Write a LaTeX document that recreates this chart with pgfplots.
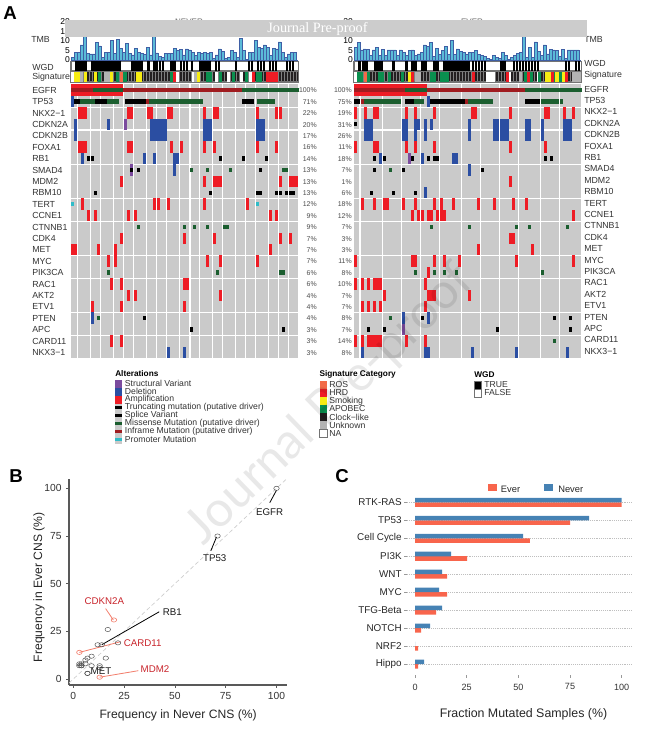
\documentclass[border=0pt]{standalone}
\usepackage{fontspec}
\setmainfont{Liberation Sans}
\newfontfamily\serifwm{Liberation Serif}
\newfontfamily\wmfont{Lato}
\usepackage{pgfplots}
\pgfplotsset{compat=1.18}

\definecolor{bggray}{HTML}{CACACA}
\definecolor{amp}{HTML}{EE1C25}
\definecolor{del}{HTML}{2B4EA2}
\definecolor{sv}{HTML}{7B4B9E}
\definecolor{mis}{HTML}{1B5E2F}
\definecolor{infr}{HTML}{A01C20}
\definecolor{prom}{HTML}{30BCC8}
\definecolor{ros}{HTML}{F26A47}
\definecolor{smok}{HTML}{F7EC13}
\definecolor{apo}{HTML}{0A8F4F}
\definecolor{clk}{HTML}{231F20}
\definecolor{unk}{HTML}{B3B3B3}
\definecolor{tmbfill}{HTML}{5BBBD8}
\definecolor{tmbline}{HTML}{3F5FA5}
\definecolor{hlred}{HTML}{C8232A}
\definecolor{hlline}{HTML}{F27C6A}
\definecolor{cblue}{HTML}{4682B4}
\definecolor{cred}{HTML}{F8654C}

% all sizes below in reference pixels, 1px = 0.75pt
\pgfdeclareplotmark{cellfull}{\pgfpathrectangle{\pgfpoint{0pt}{-4.3pt}}{\pgfpoint{2.28pt}{8.6pt}}\pgfusepathqfill}
\pgfdeclareplotmark{cellmid}{\pgfpathrectangle{\pgfpoint{0pt}{-1.55pt}}{\pgfpoint{2.28pt}{3.1pt}}\pgfusepathqfill}
\pgfdeclareplotmark{cellstrip}{\pgfpathrectangle{\pgfpoint{0pt}{-3.85pt}}{\pgfpoint{2.28pt}{7.7pt}}\pgfusepathqfill}
\pgfdeclareplotmark{cellthin}{\pgfpathrectangle{\pgfpoint{0.2pt}{-3.52pt}}{\pgfpoint{1.7pt}{7.05pt}}\pgfusepathqfill}

\newcommand{\fs}[1]{\fontsize{#1}{#1}\selectfont}

\pgfplotsset{
  onco/.style={scale only axis, width=170.5pt, height=205.2pt,
    xmin=0, xmax=75.8, ymin=-0.5, ymax=23.5, y dir=reverse,
    axis background/.style={fill=bggray},
    axis line style={draw=none}, tick style={draw=none},
    xticklabels={}, yticklabels={},
    ytick={1.5,3.5,6.5,9.5,11.5,14.5,16.5,19.5,21.5},
    xmajorgrids, ymajorgrids, grid style={white, line width=0.8pt},
    axis on top},
  full/.style={only marks, mark=cellfull, color=#1},
  mid/.style={only marks, mark=cellmid, color=#1},
  strip/.style={only marks, mark=cellstrip, color=#1},
  thinstrip/.style={only marks, mark=cellthin, color=#1},
  stripaxis/.style={scale only axis, width=170.5pt,
    xmin=0, xmax=75.8, ymin=-1, ymax=1,
    ytick=\empty, xticklabels={}, tick style={draw=none},
    axis line style={draw=black!55, line width=0.8pt}, axis on top},
  tmb/.style={scale only axis, width=170.5pt, height=28.5pt,
    xmin=0, xmax=75.8, ymin=0, ymax=20,
    ybar, bar width=2.15pt, bar shift=0pt,
    xtick=\empty, ytick={0,5,10,15,20},
    axis y line*=left, axis x line*=bottom,
    y axis line style={draw=none}, x axis line style={draw=tmbline, line width=0.6pt, -},
    tick style={draw=none},
    yticklabel style={font=\fs{6.4}, xshift=2.6pt, /pgf/number format/assume math mode=true}},
}

\begin{document}
\begin{tikzpicture}
\path[use as bounding box] (0,0) rectangle (483.75pt,-551.25pt);

% ---- TMB left
\begin{axis}[tmb, at={(53.25pt,-45pt)}, anchor=south west]
\addplot[fill=tmbfill, draw=tmbline, line width=0.3pt] table {
0.5 1.4
1.5 4
2.5 4.2
3.5 8
4.5 14
5.5 3.5
6.5 3.2
7.5 3.2
8.5 9.3
9.5 7.4
10.5 1.5
11.5 4
12.5 4
13.5 10.5
14.5 3.5
15.5 11
16.5 6
17.5 4
18.5 8.8
19.5 3.5
20.5 2.7
21.5 6
22.5 4
23.5 3.5
24.5 3
25.5 6.7
26.5 2.7
27.5 14
28.5 3.8
29.5 1.8
30.5 1.4
31.5 3.5
32.5 3.5
33.5 3.5
34.5 6
35.5 5
36.5 5.5
37.5 2.7
38.5 5.8
39.5 5.3
40.5 4
41.5 2.6
42.5 4
43.5 3.5
44.5 4
45.5 3.5
46.5 4
47.5 1
48.5 2.7
49.5 5.8
50.5 4.4
51.5 0.8
52.5 1.5
53.5 5
54.5 4
55.5 1.4
56.5 11.4
57.5 5
58.5 0.3
59.5 4
60.5 4
61.5 10.5
62.5 6.7
63.5 6
64.5 8
65.5 6.5
66.5 2.6
67.5 6
68.5 5.8
69.5 9.6
70.5 4
71.5 1.5
72.5 3.2
73.5 4
74.5 4
};
\end{axis}

% ---- TMB right
\begin{axis}[tmb, at={(265.5pt,-45pt)}, anchor=south west]
\addplot[fill=tmbfill, draw=tmbline, line width=0.3pt] table {
0.5 6.5
1.5 9.3
2.5 5.3
3.5 5.8
4.5 5.6
5.5 2.6
6.5 5.3
7.5 6.7
8.5 2.6
9.5 5.6
10.5 2.6
11.5 5.3
12.5 5.3
13.5 5.3
14.5 2.6
15.5 5.3
16.5 4
17.5 2.6
18.5 4.9
19.5 5.3
20.5 2.6
21.5 3.2
22.5 4
23.5 7.9
24.5 7
25.5 9.3
26.5 1.8
27.5 6.1
28.5 3
29.5 4.9
30.5 7
31.5 3
32.5 10.5
33.5 3
34.5 5.8
35.5 4.4
36.5 4
37.5 3
38.5 4
39.5 4
40.5 4.9
41.5 3
42.5 2.6
43.5 2.1
44.5 0.9
45.5 0.4
46.5 2.6
47.5 1.4
48.5 0.9
49.5 4
50.5 2.6
51.5 0.4
52.5 1.4
53.5 2.6
54.5 3.5
55.5 4
56.5 14
57.5 1.4
58.5 6.7
59.5 1.4
60.5 9.6
61.5 4.4
62.5 2.6
63.5 7.9
64.5 3.2
65.5 5.6
66.5 5.3
67.5 4.9
68.5 1.8
69.5 5.6
70.5 0.9
71.5 5.3
72.5 5.3
73.5 5.3
74.5 5.3
};
\end{axis}

% ---- WGD strips
\begin{axis}[stripaxis, height=7.05pt, at={(53.25pt,-53.025pt)}, anchor=south west]
\addplot[thinstrip=black] coordinates {
(1.33,0)(2.33,0)(3.33,0)(4.33,0)(6.67,0)(7.67,0)(8.67,0)(9.67,0)(10.67,0)(11.67,0)(12.67,0)(13.67,0)(14.67,0)(15.67,0)
(20,0)(21,0)(22,0)(23,0)(25.33,0)(27.33,0)(28.33,0)(29.33,0)(30.33,0)(33,0)(34,0)(36.33,0)(37.33,0)(38.33,0)(40,0)
(42.67,0)(43.67,0)(44.67,0)(45.67,0)(48,0)(49,0)(54.67,0)(59,0)(60,0)(62,0)(63,0)(64,0)(66,0)(67,0)(68,0)(71.67,0)(72.67,0)(73.67,0)};
\end{axis}
\begin{axis}[stripaxis, height=7.05pt, at={(265.5pt,-53.025pt)}, anchor=south west]
\addplot[thinstrip=black] coordinates {
(1.33,0)(2.67,0)(3.67,0)(6.67,0)(7.67,0)(8.67,0)(12.67,0)(17,0)(19,0)(20,0)(22.33,0)(23.33,0)(26.33,0)(27.33,0)
(29.67,0)(30.67,0)(31.67,0)(32.67,0)(33.67,0)(34.67,0)(35.67,0)(36.67,0)(37.67,0)(39.33,0)(40.33,0)(41.33,0)(42.33,0)(43.33,0)
(48.67,0)(49.67,0)(53,0)(54,0)(55,0)(56,0)(57,0)(58,0)(59,0)(60,0)(61,0)(70.33,0)(71.33,0)(73.67,0)(74.67,0)};
\end{axis}

% ---- signature strips
\begin{axis}[stripaxis, height=7.7pt, at={(53.25pt,-61.5pt)}, anchor=south west,
  axis background/.style={fill=clk}, xtick distance=1, xmajorgrids,
  grid style={black!50, line width=0.2pt}]
\addplot[strip=white] coordinates {(0,0)(35,0)(40.5,0)(48,0)(52,0)(56.33,0)(59.33,0)};
\addplot[strip=unk] coordinates {(3,0)(11,0)(12,0)(41,0)};
\addplot[strip=smok] coordinates {(1,0)(2,0)(4.33,0)(7.67,0)(13,0)(21.67,0)(22.67,0)(41.89,0)};
\addplot[strip=apo] coordinates {(9,0)(15,0)(17.5,0)(33,0)(45,0)(46,0)(49.5,0)(53.67,0)(58,0)(61.67,0)(62.67,0)};
\addplot[strip=ros] coordinates {(16.33,0)};
\addplot[strip=amp] coordinates {(34,0)(60.5,0)(65,0)(66,0)(67,0)(68,0)};
\end{axis}
\begin{axis}[stripaxis, height=7.7pt, at={(265.5pt,-61.5pt)}, anchor=south west,
  axis background/.style={fill=clk}, xtick distance=1, xmajorgrids,
  grid style={black!50, line width=0.2pt}]
\addplot[strip=white] coordinates {(0,0)(44,0)(45,0)(46,0)(51.5,0)(60.9,0)};
\addplot[strip=unk] coordinates {(20.33,0)(21.33,0)(55,0)(72.67,0)(73.67,0)(74.67,0)};
\addplot[strip=smok] coordinates {(18,0)(63.67,0)(64.67,0)(66.78,0)(67.78,0)(69.33,0)};
\addplot[strip=apo] coordinates {(1,0)(2,0)(4.33,0)(8,0)(9,0)(11.33,0)(15.67,0)(25.33,0)(26.33,0)(28.67,0)(29.67,0)(30.67,0)(56.67,0)(58.67,0)(61.44,0)(66.1,0)(68.5,0)};
\addplot[strip=ros] coordinates {(3.33,0)};
\addplot[strip=amp] coordinates {(19,0)(39.33,0)(50.67,0)(57.67,0)(65.67,0)(70.33,0)};
\end{axis}

% ---- oncoplot left (Never)
\begin{axis}[onco, at={(53.25pt,-268.5pt)}, anchor=south west,
  xtick={2.11,6.56,9.89,14.11,17.44,20.78,25.22,28.44,31.89,36.33,39.67,43,47.22,50.56,55,58.33,61.56,65.89,69.22,72.56}]
\addplot[full=amp] coordinates {
(0,0)(1,0)(2,0)(3,0)(4,0)(5,0)(6,0)(7,0)(8,0)(9,0)(10,0)(11,0)(12,0)(13,0)(14,0)(15,0)(16,0)(16.44,0)
(2.33,2)(3.33,2)(4.33,2)(18.67,2)(19.67,2)(25.33,2)(26.33,2)(32,2)(33,2)(44,2)(47.33,2)(48.33,2)(61.67,2)(68,2)(69.33,2)
(2.33,5)(3.33,5)(4.33,5)(18.67,5)(19.67,5)(33,5)(36.33,5)(44,5)(47.33,5)(61.67,5)(68,5)
(16.33,8)(44,8)(47.33,8)(48.33,8)(49.33,8)(69.33,8)(72.67,8)(73.67,8)(74.67,8)
(3.33,10)(27.33,10)(28.67,10)(32,10)(44,10)(58.33,10)
(5.33,11)(7.67,11)(18.67,11)(21,11)(66,11)(68,11)
(16.33,13)(37.33,13)(47.33,13)(69.33,13)(72.67,13)
(0,14)(1,14)(8.67,14)(14.33,14)(66,14)
(12,15)(14.33,15)(45,15)(49.33,15)(61.67,15)
(13,17)(16.33,17)(37.33,17)(38.33,17)
(18.67,18)(21,18)(49.33,18)
(6.67,19)(16.33,19)(37.33,19)
(13,22)(16.33,22)};
\addplot[full=del] coordinates {
(0,1)
(1,3)(12,3)(26.33,3)(27.33,3)(28.33,3)(29.33,3)(30.33,3)(31,3)(44,3)(45,3)(46,3)(61.67,3)(62.67,3)(63.67,3)
(1,4)(26.33,4)(27.33,4)(28.33,4)(29.33,4)(30.33,4)(31,4)(44,4)(45,4)(46,4)(61.67,4)(62.67,4)(63.67,4)
(3.33,6)(24,6)(27.33,6)(34,6)(35,6)
(34,7)
(6.67,20)
(32,23)(37.33,23)};
\addplot[full=sv] coordinates {(17.67,3)(19.67,7)};
\addplot[mid=black] coordinates {
(1,1)(2,1)(8,1)(9,1)(10,1)(11,1)(18,1)(19,1)(20,1)(21,1)(22,1)(23,1)(24,1)(57,1)(58,1)(59,1)(60,1)
(5.33,6)(6.67,6)(49.33,6)(57,6)(64.67,6)
(19.67,7)(22,7)(62.67,7)
(7.67,9)(46,9)(61.67,9)(62.67,9)(68,9)(69.33,9)(71.33,9)(72.67,9)(73.67,9)
(24,20)
(39.67,21)(70.33,21)};
\addplot[mid=mis] coordinates {
(7.44,0)(8.44,0)(9.44,0)(10.44,0)(11.44,0)(12.44,0)(13.44,0)(14.44,0)(15.44,0)(16.44,0)
(56.9,0)(57.9,0)(58.9,0)(59.9,0)(60.9,0)(61.9,0)(62.9,0)(63.9,0)(64.9,0)(65.9,0)(66.9,0)(67.9,0)(68.9,0)(69.9,0)(70.9,0)(71.9,0)(72.9,0)(73.9,0)(74.9,0)
(3,1)(4,1)(5,1)(6,1)(7,1)(12,1)(13,1)(14,1)(15,1)
(26,1)(27,1)(28,1)(29,1)(30,1)(31,1)(32,1)(33,1)(34,1)(35,1)(36,1)(37,1)(38,1)(39,1)(40,1)(41,1)(42,1)(43,1)
(62,1)(63,1)(64,1)(65,1)(66,1)(67,1)
(39.67,7)(45,7)(52.67,7)(70.33,7)(71.33,7)
(22,12)(37.33,12)(40.67,12)(45,12)(50.67,12)(51.67,12)
(12,16)(48.33,16)(69.33,16)(70.33,16)
(8.67,20)};
\addplot[mid=infr] coordinates {
(0,0)(1,0)(2,0)(3,0)(4,0)(5,0)(6,0)(6.44,0)
(17.44,0)(18.44,0)(19.44,0)(20.44,0)(21.44,0)(22.44,0)(23.44,0)(24.44,0)(25.44,0)(26.44,0)(27.44,0)(28.44,0)(29.44,0)
(30.44,0)(31.44,0)(32.44,0)(33.44,0)(34.44,0)(35.44,0)(36.44,0)(37.44,0)(38.44,0)(39.44,0)(40.44,0)(41.44,0)(42.44,0)
(43.44,0)(44.44,0)(45.44,0)(46.44,0)(47.44,0)(48.44,0)(49.44,0)(50.44,0)(51.44,0)(52.44,0)(53.44,0)(54.44,0)(55.44,0)(55.9,0)
(25,1)};
\addplot[mid=prom] coordinates {(0,10)(61.67,10)};
\end{axis}

% ---- oncoplot right (Ever)
\begin{axis}[onco, at={(265.5pt,-268.5pt)}, anchor=south west,
  xtick={2,9.44,15.78,22.11,28.44,35.78,42.11,48.44,54.78,62.11,68.44}]
\addplot[full=amp] coordinates {
(0,0)(1,0)(2,0)(3,0)(4,0)(5,0)(6,0)(7,0)(8,0)(9,0)(10,0)(11,0)(12,0)(13,0)(14,0)(15,0)(16,0)(17,0)(18,0)(19,0)(20,0)(21,0)(22,0)(23,0)(23.33,0)
(0,2)(3.33,2)(6.33,2)(7.33,2)(17,2)(20,2)(26.33,2)(39,2)(40,2)(51.67,2)(63.33,2)(64.33,2)(69.67,2)(72.67,2)
(0,5)(6.33,5)(7.33,5)(17,5)(20,5)(26.33,5)(51.67,5)(63.33,5)
(51.67,8)
(2.33,10)(6.33,10)(9.67,10)(10.67,10)(16,10)(20,10)(26.33,10)(28.67,10)(32.67,10)(41,10)(46.33,10)(52.67,10)(57,10)
(19,11)(21,11)(22.33,11)(24.33,11)(25.33,11)(27.33,11)(28.67,11)(29.67,11)(72.67,11)
(51.67,13)(52.67,13)
(41,14)(59,14)
(0,15)(19,15)(20,15)(26.33,15)(29.67,15)(34.67,15)(53.67,15)(72.67,15)
(24.33,16)
(0,17)(2.33,17)(4.33,17)(6.33,17)(7.33,17)(8.33,17)(23.33,17)
(9.67,18)(24.33,18)(25.33,18)(26.33,18)(38,18)
(2.33,19)(4.33,19)(6.33,19)(8.33,19)(23.33,19)
(0,22)(2.33,22)(4.33,22)(5.33,22)(6.33,22)(7.33,22)(8.33,22)(17,22)(23.33,22)};
\addplot[full=del] coordinates {
(24.33,1)
(3.33,3)(4.33,3)(5.33,3)(16,3)(17,3)(20,3)(21,3)(23.33,3)(25.33,3)(38,3)(46.33,3)(47.33,3)(48.67,3)(49.67,3)(50.67,3)(57,3)(58,3)(62.33,3)(69.67,3)(70.67,3)(71.67,3)
(3.33,4)(4.33,4)(5.33,4)(16,4)(17,4)(20,4)(23.33,4)(38,4)(46.33,4)(47.33,4)(48.67,4)(49.67,4)(50.67,4)(57,4)(58,4)(62.33,4)(69.67,4)(70.67,4)(71.67,4)
(8.33,6)(22.33,6)(32.67,6)(33.67,6)
(38,7)
(23.33,9)
(16,20)(24.33,20)
(2.33,23)(23.33,23)(24.33,23)(39,23)(53.67,23)(70.67,23)};
\addplot[full=sv] coordinates {(18,6)(16,21)};
\addplot[mid=black] coordinates {
(0,1)(1,1)(17,1)(18,1)(19,1)(25.33,1)(26.33,1)(27.33,1)(28.33,1)(29.33,1)(30.33,1)(31.33,1)(32.33,1)(33.33,1)(34.33,1)(35,1)(36,1)
(57,1)(58,1)(59,1)(60,1)(61,1)
(0,3)
(6.33,6)(9.67,6)(19,6)(24.33,6)(26.33,6)(27.33,6)(63.33,6)(65.33,6)
(6.33,7)(16,7)(42.33,7)
(5.33,9)(12.67,9)(20,9)
(22.33,20)(66.33,20)(71.67,20)
(4.33,21)(9.67,21)(47.33,21)(71.67,21)};
\addplot[mid=mis] coordinates {
(17,0)(18,0)(19,0)(20,0)(21,0)(22,0)(23,0)(23.33,0)
(57,0)(58,0)(59,0)(60,0)(61,0)(62,0)(63,0)(64,0)(65,0)(66,0)(67,0)(68,0)(69,0)(70,0)(71,0)(72,0)(73,0)(74,0)(74.9,0)
(3.33,1)(4.33,1)(5.33,1)(6.33,1)(7.33,1)(8.33,1)(9.33,1)(10.33,1)(11.33,1)(12.33,1)(13.33,1)(14.33,1)(14.67,1)
(20,1)(21,1)(22,1)(22.33,1)
(38,1)(39,1)(40,1)(41,1)(42,1)(43,1)(44,1)(45,1)(45.33,1)
(62.33,1)(63.33,1)(64.33,1)(65.33,1)(66.33,1)(67.33,1)(68.67,1)
(11.67,7)
(25.33,12)(38,12)(53.67,12)(58,12)(70.67,12)
(20,16)(26.33,16)(29.67,16)(33.67,16)(62.33,16)
(11.67,20)
(66.33,22)};
\addplot[mid=infr] coordinates {
(0,0)(1,0)(2,0)(3,0)(4,0)(5,0)(6,0)(7,0)(8,0)(9,0)(10,0)(11,0)(12,0)(13,0)(14,0)(15,0)(16,0)
(24.33,0)(25.33,0)(26.33,0)(27.33,0)(28.33,0)(29.33,0)(30.33,0)(31.33,0)(32.33,0)(33.33,0)(34.33,0)(35.33,0)(36.33,0)(37.33,0)(38.33,0)(39.33,0)(40.33,0)
(41.33,0)(42.33,0)(43.33,0)(44.33,0)(45.33,0)(46.33,0)(47.33,0)(48.33,0)(49.33,0)(50.33,0)(51.33,0)(52.33,0)(53.33,0)(54.33,0)(55.33,0)(56,0)
(2.33,1)(37,1)};
\end{axis}

% ---- panel B
\begin{axis}[scale only axis, width=163.7pt, height=154.5pt, at={(51.75pt,-513.75pt)}, anchor=south west,
  xmin=-2.1, xmax=105.3, ymin=-3.1, ymax=104.9,
  axis x line*=bottom, axis y line*=left,
  axis line style={draw=black!65, line width=0.8pt, -},
  xtick={0,25,50,75,100}, ytick={0,25,50,75,100},
  tick style={draw=black!65, line width=0.5pt}, tick align=outside, major tick length=2pt,
  ticklabel style={font=\fs{7.7}, text=black!80, /pgf/number format/assume math mode=true},
  xlabel={Frequency in Never CNS (\%)}, ylabel={Frequency in Ever CNS (\%)},
  label style={font=\fs{9.1}, text=black!85},
  xlabel style={yshift=-0.5pt}, ylabel shift=-7pt,
  ylabel style={at={(ticklabel cs:0.475)}}]
\addplot[densely dashed, black!20, line width=0.5pt] coordinates {(-2.1,-2.1)(105,105)};
\addplot[black, line width=0.6pt] coordinates {(100,99)(96.7,92.5)};
\addplot[black, line width=0.6pt] coordinates {(70.5,74.5)(67.7,67.3)};
\addplot[black, line width=0.6pt] coordinates {(14,18)(42.3,35.3)};
\addplot[hlline, line width=0.6pt] coordinates {(19.7,31)(15.9,37)};
\addplot[hlline, line width=0.6pt] coordinates {(3,14)(23.3,19.6)};
\addplot[hlline, line width=0.6pt] coordinates {(13,1)(32,4.4)};
\addplot[only marks, mark=o, mark size=1.6pt, mark options={xscale=1.3, draw=black!70, line width=0.35pt}] coordinates {
(100,100)(71,75)(22,19)(17,26)(16,11)(14,18)(13,7)(13,6)(12,18)(9,12)(9,7)(7,3)(7,3)(7,11)(6,8)(6,10)(4,7)(4,7)(4,8)(3,7)(3,8)};
\addplot[only marks, mark=o, mark size=1.6pt, mark options={xscale=1.3, draw=hlline, line width=0.45pt}] coordinates {(20,31)(3,14)(13,1)};
\end{axis}

% ---- panel C
\begin{axis}[scale only axis, width=168.75pt, height=136.5pt, at={(305.25pt,-506.25pt)}, anchor=south west,
  xmin=-3.9, xmax=105, ymin=-0.52, ymax=9.61, y dir=reverse,
  xbar, bar width=3.4pt,
  axis line style={draw=none},
  xtick={0,25,50,75,100}, ytick={0,1,2,3,4,5,6,7,8,9},
  yticklabels={RTK-RAS,TP53,Cell Cycle,PI3K,WNT,MYC,TFG-Beta,NOTCH,NRF2,Hippo},
  ymajorgrids, grid style={densely dotted, black!25, line width=0.5pt},
  tick style={draw=black!40, line width=0.4pt}, tick align=outside, major tick length=2pt,
  tick pos=left,
  yticklabel style={font=\fs{7.4}, text=black!85, xshift=1.5pt},
  xticklabel style={font=\fs{6.8}, text=black!80, yshift=-1pt, /pgf/number format/assume math mode=true},
  xlabel={Fraction Mutated Samples (\%)},
  xlabel style={font=\fs{9.3}, text=black!85, yshift=-7pt, xshift=3pt}]
\addplot[fill=cred, draw=none, bar shift=-1.69pt] coordinates {(100,0)(75,1)(55.6,2)(25.2,3)(15.5,4)(15.5,5)(10.2,6)(2.9,7)(1.5,8)(1.5,9)};
\addplot[fill=cblue, draw=none, bar shift=1.69pt] coordinates {(100,0)(84.2,1)(52.3,2)(17.4,3)(13.1,4)(11.6,5)(13.1,6)(7.3,7)(0,8)(4.4,9)};
\end{axis}

\begin{scope}[x=0.75pt, y=-0.75pt]
% ---- gene names and percentages
\foreach \g [count=\i from 0] in {EGFR,TP53,NKX2−1,CDKN2A,CDKN2B,FOXA1,RB1,SMAD4,MDM2,RBM10,TERT,CCNE1,CTNNB1,CDK4,MET,MYC,PIK3CA,RAC1,AKT2,ETV1,PTEN,APC,CARD11,NKX3−1} {
  \node[anchor=west, inner sep=0pt, font=\fs{6.6}, text=black!80] at (32,{84.3+11.4*(\i+0.5)+0.3}) {\g};
  \node[anchor=west, inner sep=0pt, font=\fs{6.6}, text=black!80] at (584,{84.3+11.4*(\i+0.5)-1}) {\g};
}
\foreach \p [count=\i from 0] in {100,71,22,20,17,16,14,13,13,13,12,9,9,7,7,7,6,6,4,4,4,3,3,3}
  \node[anchor=east, inner sep=0pt, font=\fs{5.2}, text=black!70] at (317,{84.3+11.4*(\i+0.5)+0.5}) {\p\%};
\foreach \p [count=\i from 0] in {100,75,19,31,26,11,18,7,1,6,18,12,7,3,3,11,8,10,7,7,8,7,14,8}
  \node[anchor=east, inner sep=0pt, font=\fs{5.2}, text=black!70] at (352,{84.3+11.4*(\i+0.5)+0.5}) {\p\%};

\node[anchor=west, inner sep=0pt, font=\fs{6.6}, text=black!80] at (31,39) {TMB};
\node[anchor=west, inner sep=0pt, font=\fs{6.6}, text=black!80] at (584,39) {TMB};
\node[anchor=west, inner sep=0pt, font=\fs{6.6}, text=black!80] at (32,67.5) {WGD};
\node[anchor=west, inner sep=0pt, font=\fs{6.6}, text=black!80] at (32,77) {Signature};
\node[anchor=west, inner sep=0pt, font=\fs{6.6}, text=black!80] at (584,63.5) {WGD};
\node[anchor=west, inner sep=0pt, font=\fs{6.6}, text=black!80] at (584,75) {Signature};

% ---- titles that the banner covers
\node[font=\fs{6}, text=black!60] at (189,22) {NEVER};
\node[font=\fs{6}, text=black!60] at (472,22) {EVER};

% ---- legends
\node[anchor=west, inner sep=0pt, font=\fs{6.2}\bfseries] at (115,374) {Alterations};
\foreach \t/\y/\c/\h in {Structural Variant/383.5/sv/8,Deletion/391.5/del/8,Amplification/399.5/amp/8,Truncating mutation (putative driver)/407.5/black/3,Splice Variant/415.5/black/3,Missense Mutation (putative driver)/423.5/mis/3,Inframe Mutation (putative driver)/431.5/infr/3,Promoter Mutation/439.5/prom/3} {
  \fill[bggray] (115,\y-4) rectangle (122,\y+4);
  \fill[\c] (115,\y-\h/2) rectangle (122,\y+\h/2);
  \node[anchor=west, inner sep=0pt, font=\fs{6.5}, text=black!80] at (124.7,\y-0.5) {\t};
}
\node[anchor=west, inner sep=0pt, font=\fs{6.2}\bfseries] at (319.3,374) {Signature Category};
\foreach \t/\y/\c in {ROS/385/ros,HRD/393/amp,Smoking/401/smok,APOBEC/409/apo,Clock−like/417/clk,Unknown/425/unk,NA/433.5/white} {
  \fill[\c] (319.5,\y-4) rectangle (327,\y+4);
  \node[anchor=west, inner sep=0pt, font=\fs{6.5}, text=black!80] at (329,\y) {\t};
}
\draw[black!55, line width=0.6pt] (319.5,429.5) rectangle (327,437.5);
\node[anchor=west, inner sep=0pt, font=\fs{6.2}\bfseries] at (474,375) {WGD};
\fill[black] (474,381) rectangle (481,389);
\draw[black!55, line width=0.6pt] (474,381) rectangle (481,389);
\draw[black!55, line width=0.6pt] (474,389) rectangle (481,397);
\node[anchor=west, inner sep=0pt, font=\fs{6.5}, text=black!80] at (484,385) {TRUE};
\node[anchor=west, inner sep=0pt, font=\fs{6.5}, text=black!80] at (484,393) {FALSE};

% ---- panel B labels
\node[font=\fs{7.3}, text=black!90] at (269.7,511.7) {EGFR};
\node[font=\fs{7.3}, text=black!90] at (214.7,558.3) {TP53};
\node[font=\fs{7.3}, text=hlred] at (104.3,600.7) {CDKN2A};
\node[font=\fs{7.3}, text=black!90] at (172.3,611.7) {RB1};
\node[font=\fs{7.3}, text=hlred] at (142.7,642.7) {CARD11};
\node[font=\fs{7.3}, text=hlred] at (155,669.3) {MDM2};
\node[font=\fs{7.3}, text=black!90] at (101,670.7) {MET};

% ---- panel C legend
\fill[cred] (488,484) rectangle (497,491);
\node[anchor=west, inner sep=0pt, font=\fs{7}, text=black!85] at (500.7,489.6) {Ever};
\fill[cblue] (544.3,484) rectangle (553,491);
\node[anchor=west, inner sep=0pt, font=\fs{7}, text=black!85] at (558,489.6) {Never};

% ---- panel letters
\node[anchor=west, inner sep=0pt, font=\fs{14}\bfseries] at (3,13.5) {A};
\node[anchor=west, inner sep=0pt, font=\fs{14}\bfseries] at (9,476.5) {B};
\node[anchor=west, inner sep=0pt, font=\fs{14}\bfseries] at (335,476.5) {C};

% ---- banner and watermark
\fill[fill=black!20] (65,20) rectangle (587,36.7);
\node[font=\serifwm\fs{10.7}, text=white] at (317.5,29) {Journal Pre-proof};
\node[font=\wmfont\fs{37}, text=black, opacity=0.09, rotate=44] at (330,405) {Journal Pre-proof};
\end{scope}
\end{tikzpicture}
\end{document}
